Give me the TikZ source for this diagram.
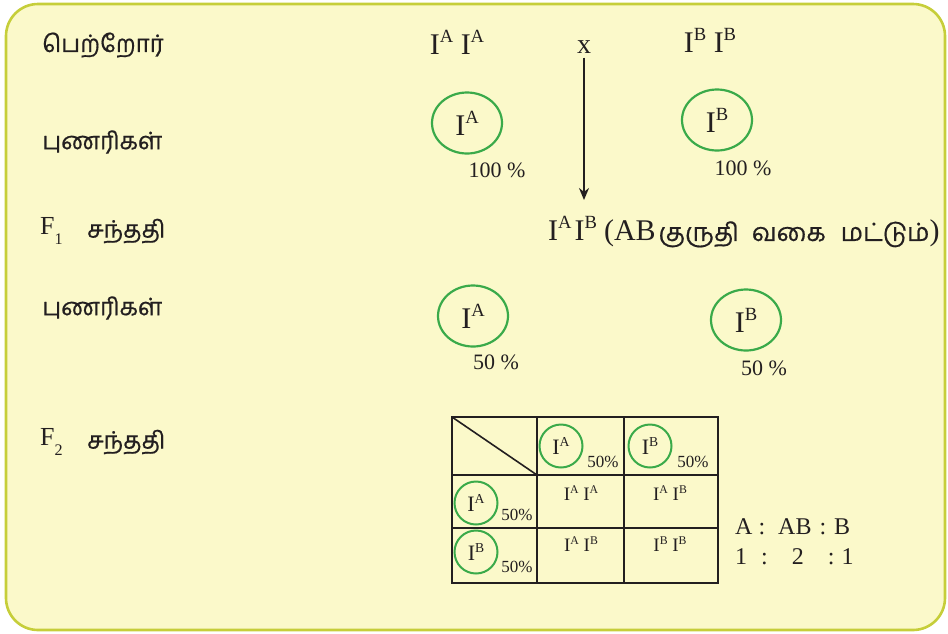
\documentclass[tikz,border=0pt]{standalone}
\usepackage{fontspec}
\setmainfont{Liberation Serif}
\newfontfamily\tamil[Script=Tamil,FakeBold=0.6]{Hind Madurai}
\usetikzlibrary{shapes.geometric,arrows.meta}
\definecolor{bgfill}{RGB}{251,249,202}
\definecolor{bgborder}{RGB}{198,206,58}
\definecolor{gcirc}{RGB}{58,170,74}
\definecolor{ink}{RGB}{35,31,32}
\newcommand{\gsup}[1]{\raisebox{0.4em}{\scalebox{0.62}{#1}}}
\newcommand{\gsub}[1]{\raisebox{-0.35em}{\scalebox{0.62}{#1}}}
\newcommand{\fs}[1]{\fontsize{#1}{#1}\selectfont}
\begin{document}
\begin{tikzpicture}[x=1pt,y=-1pt,
  every node/.style={text=ink, inner sep=0pt},
  tlabel/.style={anchor=west, font=\tamil\fs{24}},
  gam/.style={ellipse, draw=gcirc, line width=2.2pt, minimum width=70pt, minimum height=61pt, font=\fs{30}},
  sgam/.style={circle, draw=gcirc, line width=2pt, minimum size=43pt, font=\fs{22}},
  pct/.style={font=\fs{22}},
  spct/.style={font=\fs{17}},
  cell/.style={font=\fs{19}},
  grid/.style={draw=ink, line width=1.6pt}]
\useasboundingbox (0,0) rectangle (948,633);
\draw[bgborder, fill=bgfill, line width=2.6pt, rounded corners=32pt] (6,4) rectangle (945,630);

% row labels
\node[tlabel] (lp) at (42,45) {பெற்றோர்};
\node[tlabel] (lg1) at (42,142) {புணரிகள்};
\node[anchor=west, font=\fs{26}] (lf1) at (40,231) {F\gsub{1}};
\node[tlabel] (lf1t) at (87,231) {சந்ததி};
\node[tlabel] (lg2) at (42,308) {புணரிகள்};
\node[anchor=west, font=\fs{26}] (lf2) at (40,442) {F\gsub{2}};
\node[tlabel] (lf2t) at (87,442) {சந்ததி};

% parents
\node[font=\fs{30}] (pa) at (457,42) {I\gsup{A} I\gsup{A}};
\node[font=\fs{30}] (pb) at (710,40) {I\gsup{B} I\gsup{B}};
\node[font=\fs{28}] (cross) at (584,47) {x};
\coordinate (arrend) at (584,200);
\draw[ink, line width=2pt, -{Stealth[length=12pt,width=10pt]}] (cross.south)++(0,4) -- (arrend);

% gametes of parents
\node[gam] (ga) at (467,123) {I\gsup{A}};
\node[pct] (ga-p) at (497,170) {100 \%};
\node[gam] (gb) at (717,120) {I\gsup{B}};
\node[pct] (gb-p) at (743,168) {100 \%};

% F1
\node[anchor=west, font=\fs{30}] (f1) at (548,232) {I\gsup{A}\hspace{3pt}I\gsup{B}\hspace{7pt}(AB\hspace{3pt}{\tamil\fs{25}குருதி\hspace{13pt}வகை\hspace{15pt}மட்டும்})};

% gametes of F1
\node[gam] (ga2) at (473,316) {I\gsup{A}};
\node[pct] (ga2-p) at (496,362) {50 \%};
\node[gam] (gb2) at (746,320) {I\gsup{B}};
\node[pct] (gb2-p) at (764,368) {50 \%};

% Punnett square
\draw[grid] (452,417) rectangle (718,583);
\draw[grid] (537,417) -- (537,583);
\draw[grid] (624,417) -- (624,583);
\draw[grid] (452,475) -- (718,475);
\draw[grid] (452,528) -- (718,528);
\draw[grid] (452,417) -- (537,475);

\node[sgam] (ha) at (561,446) {I\gsup{A}};
\node[spct] (ha-p) at (603,462) {50\%};
\node[sgam] (hb) at (650,446) {I\gsup{B}};
\node[spct] (hb-p) at (693,462) {50\%};
\node[sgam] (ra) at (476,503) {I\gsup{A}};
\node[spct] (ra-p) at (517,515) {50\%};
\node[sgam] (rb) at (476,552) {I\gsup{B}};
\node[spct] (rb-p) at (517,567) {50\%};

\node[cell] (c11) at (581,493) {I\gsup{A} I\gsup{A}};
\node[cell] (c12) at (670,493) {I\gsup{A} I\gsup{B}};
\node[cell] (c21) at (581,544) {I\gsup{A} I\gsup{B}};
\node[cell] (c22) at (670,544) {I\gsup{B} I\gsup{B}};

\node[anchor=west, font=\fs{24}] (r1) at (735,527) {A\hspace{6pt}:\hspace{13pt}AB\hspace{8pt}:\hspace{8pt}B};
\node[anchor=west, font=\fs{24}] (r2) at (735,557) {1\hspace{14pt}:\hspace{24pt}2\hspace{24pt}:\hspace{7pt}1};
\end{tikzpicture}
\end{document}
